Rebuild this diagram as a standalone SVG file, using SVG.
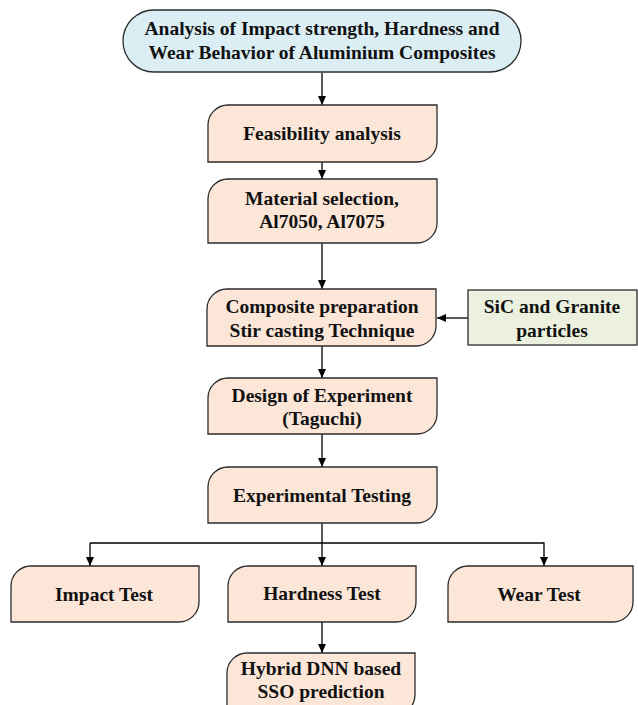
<svg xmlns="http://www.w3.org/2000/svg" width="638" height="705" viewBox="0 0 638 705">
<defs>
<marker id="ah" markerWidth="10" markerHeight="10" refX="9" refY="5" orient="auto" markerUnits="userSpaceOnUse">
<path d="M0,1 L9,5 L0,9 Z" fill="#000"/>
</marker>
<style>
.box{fill:#FBE6D8;stroke:#2b2b2b;stroke-width:1.3}
.t{font-family:"Liberation Serif","Times New Roman",serif;font-weight:bold;font-size:19.5px;fill:#111;text-anchor:middle}
.c{fill:none;stroke:#000;stroke-width:1.3}
</style>
</defs>
<rect width="638" height="705" fill="#fff"/>
<g id="connectors">
<line class="c" x1="322" y1="73" x2="322" y2="105" marker-end="url(#ah)"/>
<line class="c" x1="322" y1="162" x2="322" y2="179" marker-end="url(#ah)"/>
<line class="c" x1="322" y1="243" x2="322" y2="289" marker-end="url(#ah)"/>
<line class="c" x1="468" y1="318" x2="437" y2="318" marker-end="url(#ah)"/>
<line class="c" x1="322" y1="346" x2="322" y2="378" marker-end="url(#ah)"/>
<line class="c" x1="322" y1="434" x2="322" y2="467" marker-end="url(#ah)"/>
<polyline class="c" points="322,523 322,543"/>
<polyline class="c" points="90,543 544,543 544,566" marker-end="url(#ah)"/>
<line class="c" x1="90" y1="543" x2="90" y2="566" marker-end="url(#ah)"/>
<line class="c" x1="322" y1="543" x2="322" y2="566" marker-end="url(#ah)"/>
<line class="c" x1="322" y1="622" x2="322" y2="653" marker-end="url(#ah)"/>
</g>
<g id="n-title">
<rect x="123" y="10" width="398" height="62" rx="31" ry="31" fill="#DBEEF4" stroke="#2b2b2b" stroke-width="1.3"/>
<text class="t" x="322" y="35">Analysis of Impact strength, Hardness and</text>
<text class="t" x="322" y="59">Wear Behavior of Aluminium Composites</text>
</g>
<g id="n-feasibility">
<path class="box" d="M228,105 H437 V142 A20,20 0 0 1 417,162 H208 V125 A20,20 0 0 1 228,105 Z"/>
<text class="t" x="322" y="140">Feasibility analysis</text>
</g>
<g id="n-material">
<path class="box" d="M228,179 H437 V223 A20,20 0 0 1 417,243 H208 V199 A20,20 0 0 1 228,179 Z"/>
<text class="t" x="322" y="205">Material selection,</text>
<text class="t" x="322" y="228">Al7050, Al7075</text>
</g>
<g id="n-composite">
<path class="box" d="M227,289 H436 V326 A20,20 0 0 1 416,346 H207 V309 A20,20 0 0 1 227,289 Z"/>
<text class="t" x="322" y="313">Composite preparation</text>
<text class="t" x="322" y="337">Stir casting Technique</text>
</g>
<g id="n-sic">
<rect x="468" y="290" width="169" height="55" fill="#EBF1DE" stroke="#2b2b2b" stroke-width="1.3"/>
<text class="t" x="552" y="313">SiC and Granite</text>
<text class="t" x="552" y="337">particles</text>
</g>
<g id="n-design">
<path class="box" d="M228,378 H437 V414 A20,20 0 0 1 417,434 H208 V398 A20,20 0 0 1 228,378 Z"/>
<text class="t" x="322" y="402">Design of Experiment</text>
<text class="t" x="322" y="425">(Taguchi)</text>
</g>
<g id="n-exptest">
<path class="box" d="M228,467 H437 V503 A20,20 0 0 1 417,523 H208 V487 A20,20 0 0 1 228,467 Z"/>
<text class="t" x="322" y="502">Experimental Testing</text>
</g>
<g id="n-impact">
<path class="box" d="M31,566 H199 V602 A20,20 0 0 1 179,622 H11 V586 A20,20 0 0 1 31,566 Z"/>
<text class="t" x="104" y="601">Impact Test</text>
</g>
<g id="n-hardness">
<path class="box" d="M248,566 H416 V602 A20,20 0 0 1 396,622 H228 V586 A20,20 0 0 1 248,566 Z"/>
<text class="t" x="322" y="600">Hardness Test</text>
</g>
<g id="n-wear">
<path class="box" d="M468,566 H633 V602 A20,20 0 0 1 613,622 H448 V586 A20,20 0 0 1 468,566 Z"/>
<text class="t" x="539" y="601">Wear Test</text>
</g>
<g id="n-hybrid">
<path class="box" d="M247,653 H415 V695 A20,20 0 0 1 395,715 H227 V673 A20,20 0 0 1 247,653 Z"/>
<text class="t" x="321" y="675">Hybrid DNN based</text>
<text class="t" x="321" y="698">SSO prediction</text>
</g>
</svg>
